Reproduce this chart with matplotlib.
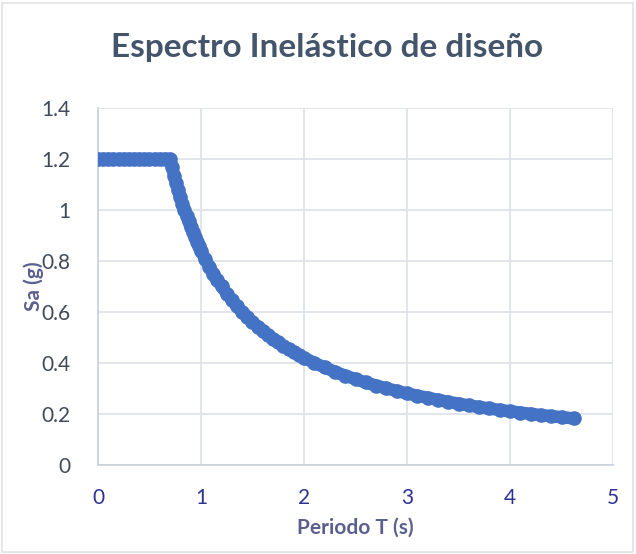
import matplotlib.pyplot as plt
from matplotlib.patches import Rectangle

# periodo T (s) y Sa (g)
periodo_meseta = [0.0, 0.05, 0.10, 0.15, 0.20, 0.25, 0.30, 0.35, 0.40, 0.45,
                  0.50, 0.55, 0.60, 0.65, 0.70]
sa_meseta = [1.2] * len(periodo_meseta)

periodo_caida = [0.72, 0.74, 0.76, 0.78, 0.80, 0.82, 0.84, 0.86, 0.88, 0.90,
                 0.92, 0.94, 0.96, 0.98, 1.00, 1.04, 1.08, 1.12, 1.16, 1.20,
                 1.25, 1.30, 1.35, 1.40, 1.45, 1.50, 1.55, 1.60, 1.65, 1.70,
                 1.75, 1.80, 1.85, 1.90, 1.95, 2.00, 2.10, 2.20, 2.30, 2.40,
                 2.50, 2.60, 2.70, 2.80, 2.90, 3.00, 3.10, 3.20, 3.30, 3.40,
                 3.50, 3.60, 3.70, 3.80, 3.90, 4.00, 4.10, 4.20, 4.30, 4.40,
                 4.50, 4.62]
sa_caida = [1.167, 1.135, 1.105, 1.077, 1.050, 1.024, 1.000, 0.977, 0.955, 0.933,
            0.913, 0.894, 0.875, 0.857, 0.840, 0.808, 0.778, 0.750, 0.724, 0.700,
            0.672, 0.646, 0.622, 0.600, 0.579, 0.560, 0.542, 0.525, 0.509, 0.494,
            0.480, 0.467, 0.454, 0.442, 0.431, 0.420, 0.400, 0.382, 0.365, 0.350,
            0.336, 0.323, 0.311, 0.300, 0.290, 0.280, 0.271, 0.263, 0.255, 0.247,
            0.240, 0.233, 0.227, 0.221, 0.215, 0.210, 0.205, 0.200, 0.195, 0.191,
            0.187, 0.182]

periodo = periodo_meseta + periodo_caida
sa = sa_meseta + sa_caida

x_ticks = [0, 1, 2, 3, 4, 5]
y_ticks = [0, 0.2, 0.4, 0.6, 0.8, 1.0, 1.2, 1.4]
y_labels = ['0', '0.2', '0.4', '0.6', '0.8', '1', '1.2', '1.4']

plt.rcParams['font.family'] = ['Lato', 'DejaVu Sans']

fig = plt.figure(figsize=(6.36, 5.54), dpi=100)
fig.patches.append(Rectangle((0.003, 0.003), 0.992, 0.992, transform=fig.transFigure,
                             fill=False, edgecolor='#E3E3E3', linewidth=1.2))

ax = fig.add_axes([0.154, 0.161, 0.810, 0.644])
ax.plot(periodo, sa, 'o-', color='#4472C4', markersize=9.5, linewidth=9, zorder=3,
        solid_capstyle='round')

ax.set_xlim(0, 5)
ax.set_ylim(0, 1.4)
ax.set_xticks(x_ticks)
ax.set_yticks(y_ticks)
ax.set_yticklabels(y_labels)
ax.grid(True, color='#DDE1E8', linewidth=1.2)
ax.set_axisbelow(True)
for side in ['top', 'right']:
    ax.spines[side].set_visible(False)
for side in ['left', 'bottom']:
    ax.spines[side].set_color('#C9D0DC')
    ax.spines[side].set_linewidth(1.2)
ax.tick_params(length=0)
ax.tick_params(axis='y', labelsize=15, labelcolor='#404A5A', pad=20)
ax.tick_params(axis='x', labelsize=15, labelcolor='#2E3192', pad=17)

ax.set_xlabel('Periodo T (s)', fontsize=15, fontweight='bold', color='#5B5F8E', labelpad=7)
ax.set_ylabel('Sa (g)', fontsize=15, fontweight='bold', color='#5B5F8E', labelpad=-2)
fig.suptitle('Espectro Inelástico de diseño', fontsize=24, fontweight='bold',
             color='#44546A', x=0.515, y=0.94)

fig.savefig('out.png', dpi=100)
